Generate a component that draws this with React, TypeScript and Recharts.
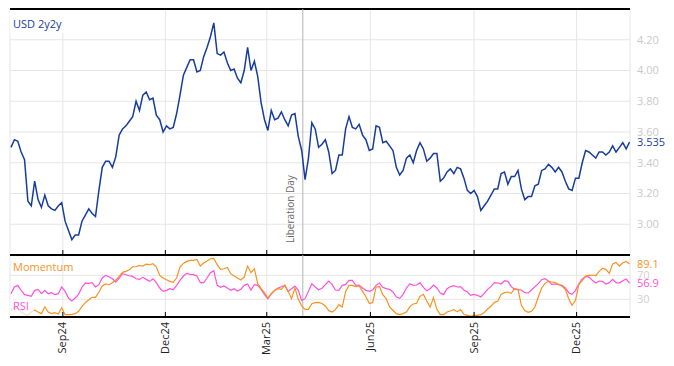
import React from 'react';
import { LineChart, Line, XAxis, YAxis, CartesianGrid, ReferenceLine } from 'recharts';

// sampling: one observation every 3 calendar days starting 2024-07-17
const START_DATE = '2024-07-17';
const STEP_DAYS = 3;

const usd2y2y = [
  3.50, 3.55, 3.54, 3.47, 3.42, 3.15, 3.12, 3.28, 3.16, 3.11,
  3.19, 3.12, 3.10, 3.09, 3.12, 3.14, 3.02, 2.96, 2.90, 2.93,
  2.93, 3.02, 3.06, 3.10, 3.07, 3.05, 3.22, 3.37, 3.41, 3.41,
  3.37, 3.44, 3.58, 3.62, 3.64, 3.67, 3.70, 3.80, 3.74, 3.84,
  3.86, 3.81, 3.82, 3.71, 3.68, 3.60, 3.64, 3.62, 3.63, 3.72,
  3.84, 3.97, 4.02, 4.07, 4.07, 3.99, 4.00, 4.09, 4.15, 4.22,
  4.31, 4.11, 4.10, 4.12, 4.05, 4.00, 4.01, 3.95, 3.92, 4.00,
  4.15, 4.00, 4.06, 3.96, 3.79, 3.68, 3.61, 3.74, 3.68, 3.69,
  3.73, 3.68, 3.64, 3.71, 3.72, 3.57, 3.48, 3.29, 3.43, 3.66,
  3.62, 3.50, 3.52, 3.55, 3.47, 3.33, 3.35, 3.45, 3.45, 3.62,
  3.70, 3.63, 3.62, 3.65, 3.58, 3.55, 3.48, 3.49, 3.64, 3.63,
  3.53, 3.54, 3.51, 3.48, 3.37, 3.32, 3.35, 3.43, 3.45, 3.40,
  3.48, 3.53, 3.49, 3.41, 3.43, 3.46, 3.46, 3.28, 3.30, 3.34,
  3.36, 3.33, 3.37, 3.36, 3.30, 3.22, 3.20, 3.22, 3.18, 3.09,
  3.12, 3.15, 3.19, 3.23, 3.23, 3.33, 3.34, 3.26, 3.31, 3.31,
  3.35, 3.23, 3.16, 3.18, 3.18, 3.25, 3.26, 3.35, 3.36, 3.39,
  3.37, 3.34, 3.37, 3.34, 3.28, 3.23, 3.22, 3.30, 3.30, 3.40,
  3.48, 3.47, 3.45, 3.43, 3.47, 3.47, 3.45, 3.47, 3.51, 3.47,
  3.50, 3.53, 3.49, 3.535,
];

const momentum = [
  11.7, 16.7, 14.4, 8.9, 5.6, 3.3, 8.9, 12.2, 8.9, 6.1,
  17.2, 8.9, 6.1, 7.8, 5.6, 16, 4.4, 4.4, 5, 6.1,
  10, 18.3, 24.4, 29.4, 33.3, 33.3, 42.2, 52.2, 55.6, 54.4,
  57.8, 62.2, 68.3, 75, 76.7, 79.4, 84.4, 84.4, 86.7, 85.6,
  88.9, 87.8, 89.4, 83.9, 70, 65.6, 62.8, 60, 58.3, 65.6,
  83.9, 90, 93.3, 95, 95, 96.7, 85.6, 90.6, 93.9, 97.8,
  98.3, 87.8, 80, 81.1, 83.3, 72.8, 68.9, 65.6, 62.2, 67.2,
  85.6, 74.4, 81.1, 56.1, 47.8, 41.1, 32.2, 39.4, 45, 47.8,
  46.7, 53.3, 43.3, 31.1, 48.9, 30, 18.9, 13.3, 13.3, 22.8,
  24.4, 25, 23, 18.9, 11.1, 8.9, 12.8, 21.1, 17.2, 43.3,
  53.3, 53.3, 51.1, 52.2, 43.3, 34.4, 23.3, 24.4, 50.6, 51.1,
  37.8, 31.1, 17.2, 11.7, 6.1, 4.4, 6.1, 8.9, 17.8, 22.2,
  23.3, 35, 38.3, 27.2, 17.2, 32.8, 13.3, 4.4, 4.4, 8.9,
  10.6, 12.8, 9.4, 12.8, 5, 3.3, 1.7, 3.3, 3.3, 4.4,
  7.8, 13.9, 18.3, 25, 26.7, 38.3, 41.1, 42.2, 40, 47.8,
  46.7, 20, 11.1, 8.3, 10, 17.2, 33.9, 48.9, 56.7, 60,
  58.9, 57.8, 55, 51.7, 46.7, 31.1, 20, 28.3, 55, 61.1,
  68.9, 70, 70.6, 69.4, 76.7, 81.7, 80, 73.3, 88.9, 91.7,
  85.6, 91.1, 93.3, 89.1,
];

const rsi = [
  39.4, 50.6, 53.3, 45, 37.8, 36.7, 35, 45, 46.7, 39.4,
  45, 39.4, 41.1, 37.8, 39.4, 50.6, 43.3, 32.2, 27.2, 32.2,
  38.3, 50.6, 57.2, 56.7, 57.8, 50.6, 54.4, 65.6, 70, 67.8,
  64.4, 58.9, 65.6, 72.8, 71.1, 69.4, 68.3, 64.4, 63.3, 66.7,
  63.3, 60, 64.4, 57.8, 48.9, 43.3, 45, 47.8, 46.1, 53.3,
  61.7, 68.9, 73.3, 71.7, 71.1, 68.9, 57.8, 57.8, 65.6, 74.4,
  77.8, 53.3, 50, 52.2, 48.9, 45, 47.8, 43.9, 46.7, 53.3,
  55.6, 45.6, 54.4, 53.3, 46.7, 37.8, 31.1, 38.9, 45, 48.9,
  51.1, 53.3, 43.3, 47.8, 52.2, 45, 28.3, 31.1, 43.3, 56.1,
  50.6, 46, 48.5, 54.4, 60.6, 55, 45.6, 45, 53.3, 55,
  61.7, 61.7, 53.3, 53.9, 48.9, 45, 43.3, 45.6, 53.3, 57.2,
  50, 47.8, 46.7, 42.2, 33.9, 31.7, 38.3, 48.9, 56.1, 53.3,
  53.9, 57.8, 50, 44.4, 47.8, 53.9, 48.9, 40.6, 37.8, 47.8,
  51.1, 52.8, 50.6, 51.1, 45.6, 42.2, 36.7, 38.3, 36.7, 33.9,
  40, 46.7, 51.1, 57.8, 57.2, 55.6, 61.1, 60, 51.1, 46.7,
  46.1, 45.6, 41.1, 40.6, 45.6, 51.1, 56.1, 62.8, 64.4, 60.6,
  55, 55.6, 54.4, 53.3, 48.9, 41.1, 38.3, 45, 56.1, 63.9,
  68.3, 67.2, 61.7, 57.2, 60.6, 60, 55.6, 57.8, 63.3, 57.8,
  57.2, 61.1, 63.9, 56.9,
];

const tickDates = ['2024-09-01', '2024-12-01', '2025-03-01', '2025-06-01', '2025-09-01', '2025-12-01'];
const tickLabels = ['Sep24', 'Dec24', 'Mar25', 'Jun25', 'Sep25', 'Dec25'];
const liberationDate = '2025-04-02';
const priceTicks = [3.0, 3.2, 3.4, 3.6, 3.8, 4.0, 4.2];
const oscTicks = [30, 70];

const BLUE = '#163d9e';
const ORANGE = '#f7931e';
const PINK = '#ff52dc';
const FONT = "'Open Sans', 'Noto Sans', sans-serif";

const DAY_MS = 86400000;
const dayOf = (s: string) => (Date.parse(s) - Date.parse(START_DATE)) / DAY_MS;

const data = usd2y2y.map((v, i) => ({
  d: i * STEP_DAYS,
  usd: v,
  mom: momentum[i],
  rsi: rsi[i],
}));
const xTicks = tickDates.map(dayOf);
const libDay = dayOf(liberationDate);
const X_DOMAIN: [number, number] = [-0.9, 549.4];
const lastUsd = usd2y2y[usd2y2y.length - 1];
const lastMom = momentum[momentum.length - 1];
const lastRsi = rsi[rsi.length - 1];

const InnerTick = (props: any) => {
  const { x, y } = props;
  return (
    <g>
      <line x1={x} x2={x} y1={y - 5} y2={y} stroke="#000" strokeWidth={1} />
    </g>
  );
};

const BottomTick = (props: any) => {
  const { x, y, payload } = props;
  const idx = xTicks.indexOf(payload.value);
  const label = idx >= 0 ? tickLabels[idx] : '';
  const tx = x + 3.5;
  const ty = y + 5;
  return (
    <g>
      <line x1={x} x2={x} y1={y - 5} y2={y} stroke="#000" strokeWidth={1} />
      <text
        x={tx}
        y={ty}
        transform={`rotate(-90, ${tx}, ${ty})`}
        textAnchor="end"
        fontSize={11}
        fill="#222"
        fontFamily={FONT}
      >
        {label}
      </text>
    </g>
  );
};

const LibLabel = (props: any) => {
  const vb = props.viewBox || {};
  const tx = (vb.x ?? 0) - 8.5;
  const ty = (vb.y ?? 0) + (vb.height ?? 0) - 12;
  return (
    <text
      x={tx}
      y={ty}
      transform={`rotate(-90, ${tx}, ${ty})`}
      textAnchor="start"
      fontSize={10}
      fill="#6a6a6a"
      fontFamily={FONT}
    >
      Liberation Day
    </text>
  );
};

export default function App() {
  return (
    <div style={{ position: 'absolute', left: 0, top: 0, width: 674, height: 366, background: '#fff', fontFamily: FONT }}>
      <div style={{ position: 'absolute', left: 0, top: 0 }}>
        <LineChart width={674} height={260} data={data} margin={{ top: 9, right: 0, bottom: 4, left: 10 }}>
          <CartesianGrid stroke="#e6e6e6" />
          <XAxis
            dataKey="d"
            type="number"
            domain={X_DOMAIN}
            ticks={xTicks}
            allowDataOverflow
            height={1}
            axisLine={{ stroke: '#000', strokeWidth: 1.3, shapeRendering: 'crispEdges' }}
            tickLine={false}
            tickSize={0}
            tickMargin={0}
            tick={(p: any) => <InnerTick {...p} />}
          />
          <YAxis
            orientation="right"
            domain={[2.8, 4.4]}
            ticks={priceTicks}
            width={44}
            axisLine={false}
            tickLine={false}
            tickSize={0}
            tickMargin={7}
            tick={{ fill: '#c9c9c9', fontSize: 11, textAnchor: 'start' }}
            tickFormatter={(v: number) => v.toFixed(2)}
            allowDataOverflow
          />
          <ReferenceLine y={4.4} stroke="#000" strokeWidth={1.3} shapeRendering="crispEdges" />
          <ReferenceLine x={libDay} stroke="#b4b4b4" strokeWidth={1} label={<LibLabel />} />
          <ReferenceLine
            y={lastUsd}
            stroke="none"
            label={{ value: lastUsd.toFixed(3), position: 'right', offset: 7, fill: BLUE, fontSize: 11 }}
          />
          <Line type="linear" dataKey="usd" stroke={BLUE} strokeWidth={1.5} dot={false} isAnimationActive={false} />
        </LineChart>
      </div>

      <div style={{ position: 'absolute', left: 0, top: 250 }}>
        <LineChart width={674} height={116} data={data} margin={{ top: 5, right: 0, bottom: 48, left: 10 }}>
          <CartesianGrid stroke="#e6e6e6" />
          <XAxis
            dataKey="d"
            type="number"
            domain={X_DOMAIN}
            ticks={xTicks}
            allowDataOverflow
            height={1}
            axisLine={{ stroke: '#000', strokeWidth: 1.3, shapeRendering: 'crispEdges' }}
            tickLine={false}
            tickSize={0}
            tickMargin={0}
            tick={(p: any) => <BottomTick {...p} />}
          />
          <YAxis
            orientation="right"
            domain={[0.5, 104]}
            ticks={oscTicks}
            width={44}
            axisLine={false}
            tickLine={false}
            tickSize={0}
            tickMargin={7}
            tick={{ fill: '#d0d0d0', fontSize: 11, textAnchor: 'start' }}
            allowDataOverflow
          />
          <ReferenceLine y={104} stroke="#000" strokeWidth={1.3} shapeRendering="crispEdges" />
          <ReferenceLine x={libDay} stroke="#b4b4b4" strokeWidth={1} />
          <Line type="linear" dataKey="rsi" stroke={PINK} strokeWidth={1.2} dot={false} isAnimationActive={false} />
          <Line type="linear" dataKey="mom" stroke={ORANGE} strokeWidth={1.2} dot={false} isAnimationActive={false} />
          <ReferenceLine
            y={lastMom}
            stroke="none"
            label={{ value: lastMom.toFixed(1), position: 'right', offset: 7, fill: ORANGE, fontSize: 11 }}
          />
          <ReferenceLine
            y={lastRsi}
            stroke="none"
            label={{ value: lastRsi.toFixed(1), position: 'right', offset: 7, fill: PINK, fontSize: 11 }}
          />
        </LineChart>
      </div>

      <div style={{ position: 'absolute', left: 10, top: 10, width: 55, height: 23, background: '#fff' }}>
        <div style={{ position: 'absolute', left: 3, top: 6, fontSize: 11, lineHeight: '15px', color: BLUE, whiteSpace: 'nowrap' }}>
          USD 2y2y
        </div>
      </div>
      <div style={{ position: 'absolute', left: 13, top: 259, fontSize: 11, lineHeight: '15px', color: ORANGE, whiteSpace: 'nowrap' }}>
        Momentum
      </div>
      <div style={{ position: 'absolute', left: 10, top: 298, width: 24, height: 18, background: 'rgba(255,255,255,0.7)' }}>
        <div style={{ position: 'absolute', left: 3, top: 0, fontSize: 11, lineHeight: '15px', color: PINK, whiteSpace: 'nowrap' }}>
          RSI
        </div>
      </div>
    </div>
  );
}
